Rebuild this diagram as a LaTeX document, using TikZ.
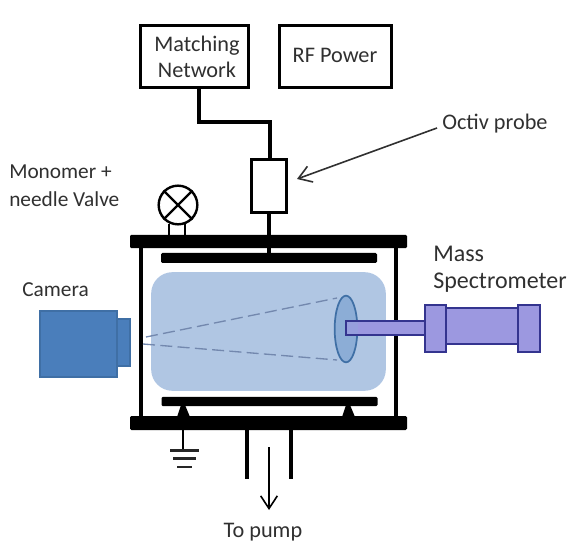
\documentclass[tikz,border=0pt]{standalone}
\usepackage{fontspec}
\setmainfont{Carlito}
\usetikzlibrary{arrows.meta,shapes.geometric}
\definecolor{txt}{HTML}{303030}
\definecolor{cambl}{HTML}{4A7EBB}
\definecolor{msfl}{HTML}{9C98E0}
\definecolor{msdk}{HTML}{34348F}
\definecolor{plasma}{HTML}{B0C6E3}
\definecolor{lensc}{HTML}{8CADD6}
\definecolor{lensd}{HTML}{3F6FA5}
\definecolor{dashc}{HTML}{7388AE}
\tikzset{
 x=0.75pt,y=-0.75pt,
 lbl/.style={text=txt,font=\fontsize{16.7}{20}\selectfont,inner sep=0pt,align=left},
 lblb/.style={lbl,font=\fontsize{16}{20}\selectfont},
 lblc/.style={lbl,font=\fontsize{18}{20}\selectfont},
 plate/.style={fill=black,draw=none,rounded corners=1pt,inner sep=0pt},
 wire/.style={draw=black,line width=2.7pt},
 boxx/.style={draw=black,line width=2.4pt,fill=white,inner sep=0pt},
 cam/.style={draw=lensd,fill=cambl,line width=1pt},
 ms/.style={draw=msdk,fill=msfl,line width=1.2pt},
 barb/.style={-{Straight Barb[length=9.5pt,width=12.5pt,line width=1.2pt]}},
}
\begin{document}
\begin{tikzpicture}
\useasboundingbox (0,0) rectangle (573,555);
% wires
\coordinate (w1) at (199,122);
\coordinate (w2) at (270,122);
\node[boxx,minimum width=81.5pt,minimum height=47pt] (match) at (194.5,56.5) {};
\node[boxx,minimum width=84.5pt,minimum height=47pt] (rf) at (335.5,56.5) {};
\node[lbl,align=center] at (197,57) {Matching\\Network};
\node[lbl] at (335,55) {RF Power};
\draw[wire] (match.south -| w1) -- (w1) -- (w2) -- (270,159);
\node[boxx,minimum width=26pt,minimum height=40pt] (octiv) at (269,186) {};
% plates
\node[plate,minimum width=207.75pt,minimum height=10pt] (top) at (268.5,241.5) {};
\node[plate,minimum width=207.75pt,minimum height=10.5pt] (bot) at (268.5,423) {};
\node[plate,minimum width=162pt,minimum height=7.5pt] (up) at (269,258) {};
\node[plate,minimum width=162pt,minimum height=7pt] (lo) at (269.5,401.5) {};
\draw[wire] (octiv.south) -- (top.north -| octiv.south);
\draw[wire] (top.south -| octiv.south) -- (up.north -| octiv.south);
\draw[wire] (141,248) -- (141,416);
\draw[wire] (396,248) -- (396,416);
\fill (177,417) -- (181,405) -- (185,405) -- (190,417) -- cycle;
\fill (342,417) -- (346,405) -- (350,405) -- (355,417) -- cycle;
% valve
\node[draw=black,line width=1.8pt,circle,minimum size=29pt,inner sep=0pt] (valve) at (178,205) {};
\draw[line width=1.7pt] (valve.north west) -- (valve.south east) (valve.north east) -- (valve.south west);
\draw[line width=1.7pt] (169,224) -- (169,235) (185,224) -- (185,235);
% plasma
\node[fill=plasma,rounded corners=16pt,minimum width=176pt,minimum height=89pt,inner sep=0pt] (pl) at (268.5,331.5) {};
\draw[dashc,line width=1pt,dash pattern=on 9pt off 4pt] (146,337) -- (337,298);
\draw[dashc,line width=1pt,dash pattern=on 9pt off 4pt] (143,344) -- (337,360);
\node[draw=lensd,fill=lensc,line width=1.3pt,ellipse,minimum width=17pt,minimum height=50pt,inner sep=0pt] (lens) at (346,329) {};
% camera
\draw[cam] (40,311) rectangle (117,377);
\draw[cam] (117,319) rectangle (130,366);
% mass spec
\draw[ms,fill=msfl!70!lensc] (346,321) rectangle (425,335);
\fill[msfl] (358,322) rectangle (424,334);
\draw[ms] (446,308) rectangle (518,344);
\draw[ms] (425,305) rectangle (446,352);
\draw[ms] (518,305) rectangle (540,352);
% ground
\draw[line width=2.2pt] (183,430) -- (183,450);
\draw[line width=1.6pt,black!85] (170,450.5) -- (199,450.5) (173,458.5) -- (196,458.5) (177,467) -- (192,467);
% pump
\draw[line width=2.7pt] (247,430) -- (247,479) (291,430) -- (291,479);
\coordinate (p1) at (269,447);
\coordinate (p2) at (269,510);
\draw[line width=1.2pt,barb] (p1) -- (p2);
% octiv arrow
\coordinate (o1) at (437,128);
\coordinate (o2) at (297,179);
\draw[line width=1.2pt,txt,barb] (o1) -- (o2);
% labels
\node[lbl,anchor=west] at (442,124) {Octiv probe};
\node[lblb,anchor=west] at (9,172) {Monomer +};
\node[lblb,anchor=west] at (9,199) {needle Valve};
\node[lblb,anchor=west] at (22,290) {Camera};
\node[lblc,anchor=west] at (433,254) {Mass};
\node[lblc,anchor=west] at (433,283) {Spectrometer};
\node[lbl] at (263,532) {To pump};
\end{tikzpicture}
\end{document}
